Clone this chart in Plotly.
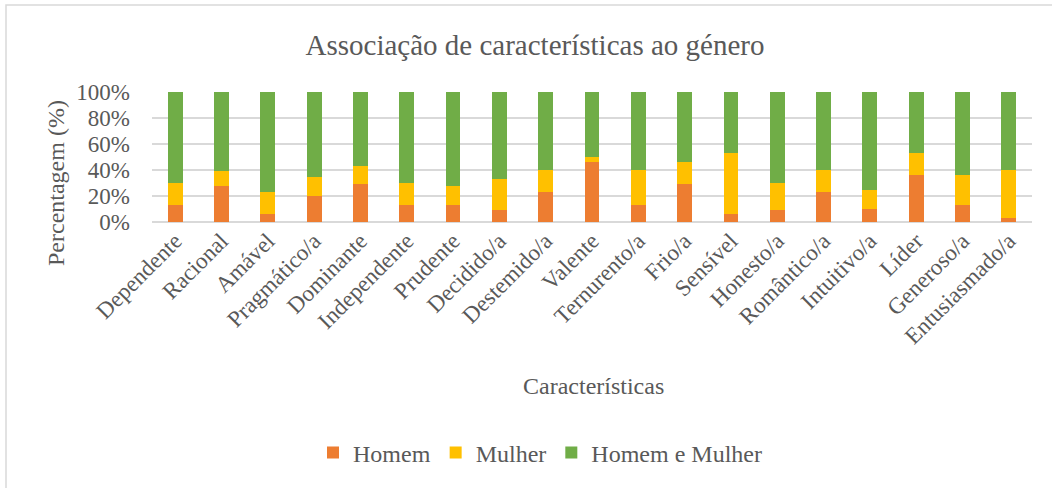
import plotly.graph_objects as go

categories = ["Dependente", "Racional", "Amável", "Pragmático/a", "Dominante", "Independente",
              "Prudente", "Decidido/a", "Destemido/a", "Valente", "Ternurento/a", "Frio/a",
              "Sensível", "Honesto/a", "Romântico/a", "Intuitivo/a", "Líder", "Generoso/a",
              "Entusiasmado/a"]
homem = [13, 28, 6.5, 20, 29.5, 13, 13, 9.5, 23, 46, 13, 29.5, 6.5, 9.5, 23, 10, 36.5, 13, 3]
mulher = [17, 11, 16.5, 14.5, 13.5, 17, 14.5, 23.5, 17, 4, 27, 17, 46.5, 20.5, 17, 15, 16.5, 23.5, 37]
ambos = [70, 61, 77, 65.5, 57, 70, 72.5, 67, 60, 50, 60, 53.5, 47, 70, 60, 75, 47, 63.5, 60]
y_ticks = [0, 20, 40, 60, 80, 100]
y_tick_labels = ["0%", "20%", "40%", "60%", "80%", "100%"]

FONT = "Liberation Serif, Times New Roman, DejaVu Serif, serif"
GREY = "#595959"

fig = go.Figure()
for name, vals, color in [("Homem", homem, "#ED7D31"),
                          ("Mulher", mulher, "#FFC000"),
                          ("Homem e Mulher", ambos, "#70AD47")]:
    fig.add_trace(go.Bar(x=categories, y=vals, name=name, marker_color=color,
                         marker_line_width=0))

W, H = 1052, 488
L, R, T, B = 152, 20, 92, 266
pw, ph = W - L - R, H - T - B

def px(x):
    return (x - L) / pw

def py(y):
    return (H - B - y) / ph

fig.update_layout(
    width=W, height=H,
    barmode="stack", bargap=0.68,
    margin=dict(l=L, r=R, t=T, b=B, autoexpand=False),
    paper_bgcolor="white", plot_bgcolor="white",
    font=dict(family=FONT, color=GREY, size=23),
    title=dict(text="Associação de características ao género", x=535 / W, xanchor="center",
               xref="container", y=1 - 45 / H, yanchor="middle",
               font=dict(size=29, color=GREY, family=FONT)),
    xaxis=dict(tickangle=-45, tickfont=dict(size=23, color=GREY, family=FONT), showgrid=False,
               showline=False, ticks="", automargin=False),
    yaxis=dict(range=[0, 100], tickvals=y_ticks, ticktext=y_tick_labels,
               tickfont=dict(size=23, color=GREY, family=FONT), showgrid=True, gridcolor="#d9d9d9",
               gridwidth=1.5, zeroline=True, zerolinecolor="#d9d9d9", zerolinewidth=1.5,
               ticks="", automargin=False, ticklabelstandoff=21),
    legend=dict(orientation="h", x=px(540), xanchor="center", y=py(453), yanchor="middle",
                font=dict(size=24, color=GREY, family=FONT), traceorder="normal"),
    showlegend=True,
    annotations=[
        dict(text="Características", xref="paper", yref="paper", x=px(593), y=py(386),
             xanchor="center", yanchor="middle", showarrow=False,
             font=dict(size=24, color=GREY, family=FONT)),
        dict(text="Percentagem (%)", xref="paper", yref="paper", x=px(56), y=py(183),
             xanchor="center", yanchor="middle", textangle=-90, showarrow=False,
             font=dict(size=24, color=GREY, family=FONT)),
    ],
    shapes=[dict(type="rect", xref="paper", yref="paper", x0=px(6), x1=px(1060),
                 y0=py(500), y1=py(5), line=dict(color="#d9d9d9", width=1.5),
                 fillcolor="rgba(0,0,0,0)", layer="below")],
)

fig.write_html("out.html", config={"displayModeBar": False},
               post_script="document.body.style.margin='0';document.body.style.overflow='hidden';")
